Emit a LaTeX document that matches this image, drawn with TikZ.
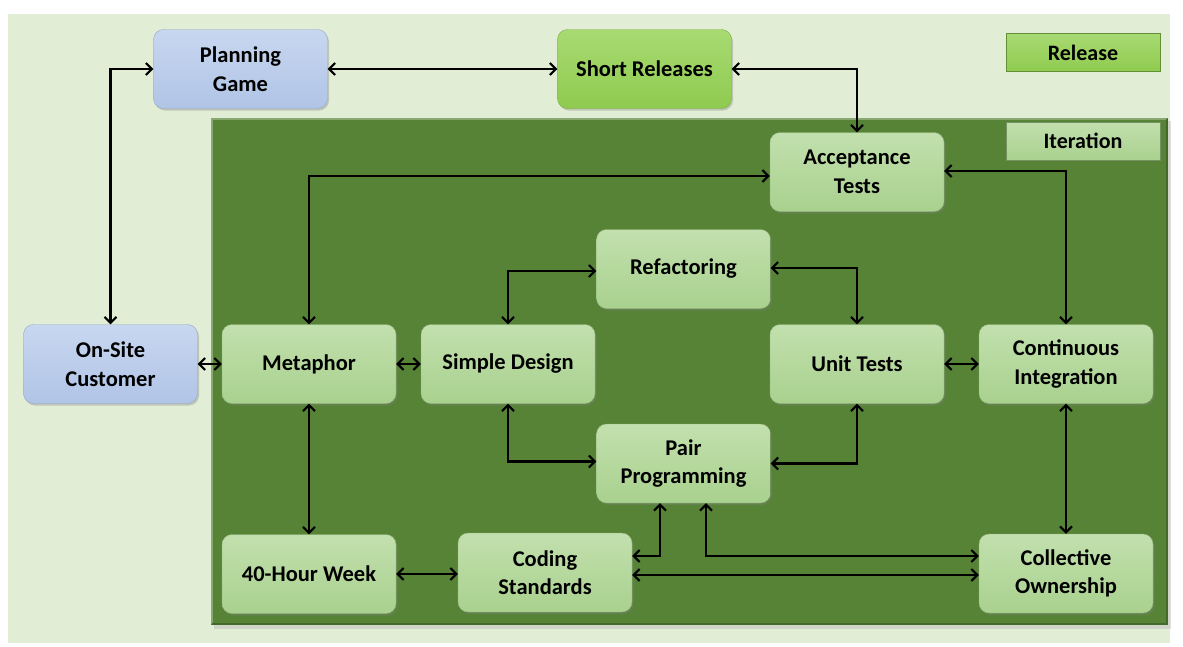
\documentclass[tikz,border=0pt]{standalone}
\usepackage{fontspec}
\setmainfont{Carlito}
\usetikzlibrary{arrows.meta,shadows,calc}
\definecolor{panel}{HTML}{E2EDD5}
\definecolor{iter}{HTML}{568336}
\definecolor{ngreen}{HTML}{A9D18E}
\definecolor{ngreenT}{HTML}{C2E0AE}
\definecolor{nblue}{HTML}{B0C4E6}
\definecolor{nblueT}{HTML}{C8D7F0}
\definecolor{sgreen}{HTML}{8FCB4F}
\definecolor{sgreenT}{HTML}{A8DA72}
\begin{document}
\begin{tikzpicture}[x=1pt,y=-1pt,
  every node/.style={font=\bfseries\fontsize{22.5}{28.5}\selectfont, align=center, text=black},
  pbox/.style={rectangle, rounded corners=10pt, minimum width=174pt, minimum height=79pt,
    inner sep=0pt, draw=#1!85!black, line width=0.4pt,
    drop shadow={shadow xshift=1.5pt, shadow yshift=-2pt, opacity=0.35}},
  gbox/.style={pbox=ngreen, top color=ngreenT, bottom color=ngreen},
  bbox/.style={pbox=nblue, top color=nblueT, bottom color=nblue},
  sbox/.style={pbox=sgreen, top color=sgreenT, bottom color=sgreen},
  legend/.style={rectangle, minimum width=154pt, minimum height=38pt, inner sep=0pt,
    draw=#1!70!black, line width=0.6pt, fill=#1},
  conn/.style={line width=2.2pt, {Straight Barb[length=6pt,width=12pt,line width=2pt]}-{Straight Barb[length=6pt,width=12pt,line width=2pt]}}
]
\useasboundingbox (0,0) rectangle (1183,646);
\fill[white] (0,0) rectangle (1183,646);
\fill[panel] (8,14) rectangle (1170,643);
% iteration area
\fill[black!25, opacity=0.5] (214,121) rectangle (1171,629);
\fill[iter] (211,118) rectangle (1168,625);
\draw[iter!70!white, line width=1.2pt] (212,624) -- (212,119) -- (1167,119);
\draw[iter!80!black, line width=1.2pt] (212,624) -- (1167,624) -- (1167,119);

% legends
\node[legend=sgreen, top color=sgreenT, bottom color=sgreen] (rel) at (1083,52.5) {\fontsize{22}{26}\selectfont Release};
\node[legend=ngreen, top color=ngreenT, bottom color=ngreen] (itl) at (1083,141) {\fontsize{22}{26}\selectfont Iteration};

% nodes
\node[bbox] (pg)  at (240.5,69) {Planning\\Game};
\node[sbox] (sr)  at (644.5,69) {Short Releases};
\node[gbox] (at)  at (857,172) {Acceptance\\Tests};
\node[gbox] (ref) at (683.5,269) {Refactoring};
\node[bbox] (osc) at (110.5,364) {On-Site\\Customer};
\node[gbox] (met) at (309,364) {Metaphor};
\node[gbox] (sd)  at (508,364) {Simple Design};
\node[gbox] (ut)  at (857,364) {Unit Tests};
\node[gbox] (ci)  at (1066,364) {Continuous\\Integration};
\node[gbox] (pp)  at (683.5,463.5) {Pair\\Programming};
\node[gbox] (fhw) at (309,574) {40-Hour Week};
\node[gbox] (cs)  at (545,572.5) {Coding\\Standards};
\node[gbox] (co)  at (1066,573.5) {Collective\\Ownership};

% connectors
\draw[conn] (osc.north) |- (pg.west);
\draw[conn] (pg.east) -- (sr.west);
\draw[conn] (sr.east) -| (at.north);
\draw[conn] (met.north) |- ([yshift=-4pt]at.west);
\draw[conn] ([yshift=1pt]at.east) -| (ci.north);
\draw[conn] (sd.north) |- ([yshift=-2pt]ref.west);
\draw[conn] ([yshift=1pt]ref.east) -| (ut.north);
\draw[conn] (osc.east) -- (met.west);
\draw[conn] (met.east) -- (sd.west);
\draw[conn] (ut.east) -- (ci.west);
\draw[conn] (met.south) -- (fhw.north);
\draw[conn] (sd.south) |- ([yshift=2pt]pp.west);
\draw[conn] (pp.east) -| (ut.south);
\draw[conn] (ci.south) -- (co.north);
\draw[conn] (fhw.east) -- (cs.west |- fhw.east);
\draw[conn] ([yshift=16.5pt]cs.east) -| ([xshift=-23.5pt]pp.south);
\draw[conn] ([xshift=22.5pt]pp.south) |- ([yshift=17.5pt]co.west);
\draw[conn] ([yshift=-2.5pt]cs.east) -- ([yshift=-2.5pt]cs.east -| co.west);
\end{tikzpicture}
\end{document}
